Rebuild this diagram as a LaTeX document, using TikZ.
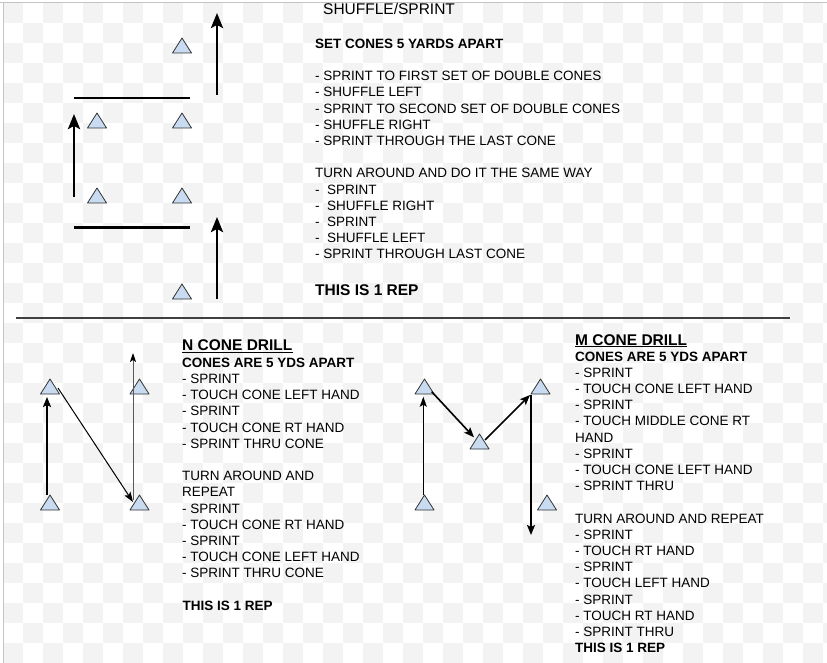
\documentclass[tikz,border=0pt]{standalone}
\usepackage{fontspec}
\setmainfont{Liberation Sans}
\usetikzlibrary{arrows.meta}
\definecolor{conefill}{HTML}{C8DBF0}
\definecolor{checker}{HTML}{F3F3F3}
\definecolor{framecol}{HTML}{C4C4C4}
\tikzset{
  txt/.style={anchor=base west, inner sep=0pt, font=\fontsize{13.5}{16}\selectfont},
  btxt/.style={anchor=base west, inner sep=0pt, font=\fontsize{13.5}{16}\selectfont\bfseries},
  bigtxt/.style={anchor=base west, inner sep=0pt, font=\fontsize{15.5}{18}\selectfont},
  bigbtxt/.style={anchor=base west, inner sep=0pt, font=\fontsize{15.5}{18}\selectfont\bfseries},
  conestyle/.style={fill=conefill, draw=black!80, line width=0.8pt, line join=round},
  cone/.pic={\draw[conestyle] (-9.5,7.5) -- (9.5,7.5) -- (0,-7.5) -- cycle;},
  bigarrow/.style={line width=2.7pt, -{Stealth[length=15pt, width=12pt, inset=3pt]}},
  shuffleline/.style={line width=2.8pt},
  midarrow/.style={line width=1.6pt, -{Stealth[length=10pt, width=8pt, inset=2pt]}},
  thinarrow/.style={line width=1pt, -{Stealth[length=10pt, width=7pt, inset=2pt]}},
  graythin/.style={line width=1pt, draw=black!65, -{Stealth[length=9pt, width=6pt, inset=2pt, color=black, fill=black]}},
}
\begin{document}
\begin{tikzpicture}[x=1pt, y=-1pt]
\useasboundingbox (0,0) rectangle (827,663);
% background
\begin{scope}
\clip (0,0) rectangle (827,663);
\fill[white] (0,0) rectangle (827,663);
\foreach \x in {3,43,...,823} {
  \foreach \y in {3,43,...,663} {
    \fill[checker] (\x,\y) rectangle ++(20,20);
    \fill[checker] (\x+20,\y+20) rectangle ++(20,20);
  }
}
\end{scope}
\draw[framecol, line width=1pt] (0,2.5) -- (827,2.5);
\draw[framecol, line width=1pt] (3,2.5) -- (3,663);

% ---------------- top drill ----------------
\path (182,45.5) pic {cone} (97,120.5) pic {cone} (182,120.5) pic {cone}
      (97,195.5) pic {cone} (182,195.5) pic {cone} (182,291.5) pic {cone};
\coordinate (l1a) at (74,98);   \coordinate (l1b) at (190,98);
\coordinate (l2a) at (74,227.5); \coordinate (l2b) at (190,227.5);
\draw[shuffleline] (l1a) -- (l1b);
\draw[shuffleline] (l2a) -- (l2b);
\coordinate (a1s) at (217,95);  \coordinate (a1e) at (217,13);
\coordinate (a2s) at (217,299); \coordinate (a2e) at (217,217);
\coordinate (a3s) at (74,197);  \coordinate (a3e) at (74,114);
\draw[bigarrow] (a1s) -- (a1e);
\draw[bigarrow] (a2s) -- (a2e);
\draw[bigarrow] (a3s) -- (a3e);

\node[bigtxt] (ttitle) at (323,15) {SHUFFLE/SPRINT};
\node[btxt] (tset) at (315,48.3) {SET CONES 5 YARDS APART};
\foreach \k/\t in {0/{- SPRINT TO FIRST SET OF DOUBLE CONES},1/{- SHUFFLE LEFT},
  2/{- SPRINT TO SECOND SET OF DOUBLE CONES},3/{- SHUFFLE RIGHT},
  4/{- SPRINT THROUGH THE LAST CONE},6/{TURN AROUND AND DO IT THE SAME WAY},
  7/{- \ SPRINT},8/{- \ SHUFFLE RIGHT},9/{- \ SPRINT},10/{- \ SHUFFLE LEFT},
  11/{- SPRINT THROUGH LAST CONE}}
  \node[txt] (t\k) at (315,80.7+16.2*\k) {\t};
\node[bigbtxt] (trep) at (315,295) {THIS IS 1 REP};

% separator
\coordinate (sepa) at (16,318); \coordinate (sepb) at (790,318);
\draw[black!75, line width=1.2pt] (sepa) -- (sepb);

% ---------------- N drill ----------------
\path (50,386.5) pic {cone} (139.5,386.5) pic {cone}
      (50,502.5) pic {cone} (139.5,502.5) pic {cone};
\coordinate (na1s) at (47,495);  \coordinate (na1e) at (47,397);
\coordinate (na2s) at (58,388);  \coordinate (na2e) at (133,502);
\coordinate (na3s) at (133,500); \coordinate (na3e) at (133,353);
\draw[midarrow, line width=2pt] (na1s) -- (na1e);
\draw[thinarrow] (na2s) -- (na2e);
\draw[graythin] (na3s) -- (na3e);

\node[bigbtxt] (ntitle) at (182,350.7) {N CONE DRILL};
\draw[line width=1.3pt] ([yshift=-1.8pt]ntitle.base west) -- ([yshift=-1.8pt]ntitle.base east);
\node[btxt] (ncones) at (182,367.3) {CONES ARE 5 YDS APART};
\foreach \k/\t in {0/{- SPRINT},1/{- TOUCH CONE LEFT HAND},2/{- SPRINT},
  3/{- TOUCH CONE RT HAND},4/{- SPRINT THRU CONE},6/{TURN AROUND AND},
  7/{REPEAT},8/{- SPRINT},9/{- TOUCH CONE RT HAND},10/{- SPRINT},
  11/{- TOUCH CONE LEFT HAND},12/{- SPRINT THRU CONE}}
  \node[txt] (n\k) at (182,383.5+16.2*\k) {\t};
\node[btxt] (nrep) at (182.5,610.3) {THIS IS 1 REP};

% ---------------- M drill ----------------
\path (424.5,386.5) pic {cone} (479.5,441.5) pic {cone} (540.5,386.5) pic {cone}
      (424.5,502.5) pic {cone} (547,502.5) pic {cone};
\coordinate (ma1s) at (423.3,495);   \coordinate (ma1e) at (423.3,396.7);
\coordinate (ma2s) at (431.7,391.7); \coordinate (ma2e) at (474,437.3);
\coordinate (ma3s) at (485,440);     \coordinate (ma3e) at (530,395);
\coordinate (ma4s) at (531,395);     \coordinate (ma4e) at (531,535);
\draw[thinarrow, line width=1.3pt] (ma1s) -- (ma1e);
\draw[midarrow] (ma2s) -- (ma2e);
\draw[midarrow] (ma3s) -- (ma3e);
\draw[midarrow] (ma4s) -- (ma4e);

\node[bigbtxt] (mtitle) at (575,345) {M CONE DRILL};
\draw[line width=1.3pt] ([yshift=-1.8pt]mtitle.base west) -- ([yshift=-1.8pt]mtitle.base east);
\node[btxt] (mcones) at (575,361) {CONES ARE 5 YDS APART};
\foreach \k/\t in {0/{- SPRINT},1/{- TOUCH CONE LEFT HAND},2/{- SPRINT},
  3/{- TOUCH MIDDLE CONE RT},4/{HAND},5/{- SPRINT},6/{- TOUCH CONE LEFT HAND},
  7/{- SPRINT THRU},9/{TURN AROUND AND REPEAT},10/{- SPRINT},
  11/{- TOUCH RT HAND},12/{- SPRINT},13/{- TOUCH LEFT HAND},14/{- SPRINT},
  15/{- TOUCH RT HAND},16/{- SPRINT THRU}}
  \node[txt] (m\k) at (575,377.2+16.2*\k) {\t};
\node[btxt] (mrep) at (575,652.6) {THIS IS 1 REP};
\end{tikzpicture}
\end{document}
